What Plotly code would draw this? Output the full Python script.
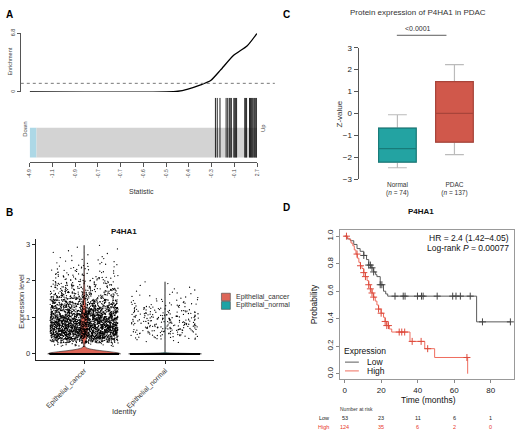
import numpy as np
import plotly.graph_objects as go

W, H = 520, 436
FONT = "Liberation Sans, Arial, sans-serif"

# ---------------- Panel A: barcode / enrichment ----------------
stat_tick_labels = ["-4.9", "-1.1", "-0.9", "-0.7", "-0.7", "-0.6", "-0.5", "-0.4", "-0.3", "-0.1", "2.7"]
rank_ticks = [0, 100, 200, 300, 400, 500, 600, 700, 800, 900, 1000]
enrich_rank = [0, 600, 652, 696, 752, 796, 839, 896, 957, 1000]
enrich_value = [0, 0, 0.08, 0.34, 0.83, 1.33, 2.53, 4.23, 5.36, 6.8]
enrich_baseline = 1.0
gene_set_ranks = [817, 825, 837, 864, 871, 878, 882, 887, 898, 902, 906, 910,
                  946, 950, 954, 967, 971, 975, 979, 983, 988, 992, 996, 999]
down_region = [0, 30]
up_region = [30, 1000]

# ---------------- Panel B: violin ----------------
violin_groups = ["Epithelial_cancer", "Epithelial_normal"]
expr_bin_lower = [0.2, 0.3, 0.4, 0.5, 0.6, 0.7, 0.8, 0.9, 1.0, 1.1, 1.2, 1.3, 1.4, 1.5,
                  1.6, 1.7, 1.8, 1.9, 2.0, 2.1, 2.2, 2.3, 2.4, 2.5, 2.6, 2.7, 2.8, 2.9]
cancer_bin_counts = [20, 120, 220, 260, 270, 260, 240, 220, 200, 170, 140, 115, 90, 72,
                     58, 45, 36, 28, 22, 17, 13, 10, 8, 6, 4, 3, 2, 2]
normal_bin_counts = [0, 4, 15, 22, 28, 30, 30, 30, 28, 24, 18, 13, 9, 6,
                     5, 3, 2, 2, 0, 0, 0, 0, 0, 0, 0, 0, 0, 0]
cancer_zero_count = 4500
normal_zero_count = 4000

# ---------------- Panel C: boxplot ----------------
box_groups = ["Normal", "PDAC"]
box_n = [74, 137]
box_q1 = [-2.22, -1.31]
box_median = [-1.61, 0.0]
box_q3 = [-0.67, 1.45]
box_lower = [-2.48, -1.88]
box_upper = [-0.06, 2.23]
box_pvalue = "<0.0001"

# ---------------- Panel D: Kaplan-Meier ----------------
low_t = [0, 1.5, 3.2, 5.0, 6.8, 8.5, 10.5, 12.0, 13.2, 14.5, 15.9, 17.0, 17.7, 19.5, 21.3, 22.5, 23.6, 72.3, 91.0]
low_s = [1.0, 0.98, 0.967, 0.94, 0.91, 0.89, 0.86, 0.83, 0.79, 0.77, 0.74, 0.72, 0.706, 0.647, 0.60, 0.58, 0.564, 0.377, 0.377]
high_t = [0, 1.5, 2.5, 3.5, 4.5, 5.3, 6.2, 7.0, 7.8, 8.6, 9.5, 10.5, 11.4, 12.3, 13.2, 14.1, 15.0, 15.9,
          16.8, 17.7, 18.6, 20.0, 21.3, 22.2, 23.1, 24.5, 25.8, 35.8, 43.9, 49.3, 67.4]
high_s = [1.0, 0.985, 0.975, 0.95, 0.93, 0.90, 0.87, 0.84, 0.81, 0.785, 0.765, 0.735, 0.706, 0.677, 0.647,
          0.617, 0.587, 0.557, 0.528, 0.50, 0.47, 0.44, 0.41, 0.38, 0.35, 0.325, 0.303, 0.235, 0.182, 0.118, 0.0]
low_censor_t = [10.5, 13.2, 14.1, 15.0, 15.9, 19.5, 20.4, 27.6, 32.1, 33.1, 39.9, 42.1, 43.0,
                50.7, 59.2, 61.0, 63.4, 68.8, 75.5, 90.8]
high_censor_t = [1.0, 6.8, 8.7, 10.5, 11.4, 13.2, 14.1, 15.0, 15.9, 18.6, 20.0, 22.2, 23.1, 24.0,
                 29.9, 31.3, 32.9, 37.0, 41.9, 45.5, 67.0]
risk_times = [0, 20, 40, 60, 80]
risk_low = [53, 23, 11, 6, 1]
risk_high = [124, 35, 6, 2, 0]
km_ticks_x = [0, 20, 40, 60, 80]
km_ticks_y = [0.0, 0.2, 0.4, 0.6, 0.8, 1.0]
hr_text = "HR = 2.4 (1.42–4.05)"
logrank_text = "Log-rank <i>P</i> = 0.00077"


def px_x(px):
    return px / W


def px_y(py):
    return 1 - py / H


def hash01(i, seed):
    v = np.sin(i * 12.9898 + seed * 78.233) * 43758.5453
    return v - np.floor(v)


fig = go.Figure()

# ---- Panel A traces ----
fig.add_trace(go.Scatter(x=enrich_rank, y=enrich_value, mode="lines",
                         line=dict(color="black", width=1.3, shape="spline", smoothing=0.6),
                         xaxis="x", yaxis="y", hoverinfo="skip", showlegend=False))
bx, by = [], []
for r in gene_set_ranks:
    bx += [r, r, None]
    by += [0, 1, None]
fig.add_trace(go.Scatter(x=bx, y=by, mode="lines", line=dict(color="black", width=1), opacity=0.85,
                         xaxis="x", yaxis="y2", hoverinfo="skip", showlegend=False))


# ---- Panel B traces ----
def expand(counts):
    vals = []
    for lo, c in zip(expr_bin_lower, counts):
        for k in range(c):
            vals.append(lo + (k + 0.5) / c * 0.1)
    return vals


cancer_vals = np.array([0.0] * cancer_zero_count + expand(cancer_bin_counts))
normal_vals = np.array([0.0] * normal_zero_count + expand(normal_bin_counts))
violin_colors = ["#DD6658", "#1DA3A5"]
for i, (vals, bw) in enumerate([(cancer_vals, 0.07), (normal_vals, 0.012)]):
    fig.add_trace(go.Violin(y=vals, x0=i + 1, xaxis="x3", yaxis="y3", width=0.9, bandwidth=bw,
                            spanmode="hard", scalemode="width", fillcolor=violin_colors[i],
                            line=dict(color="#222222", width=0.6), points=False,
                            box_visible=False, meanline_visible=False, hoverinfo="skip",
                            showlegend=False, opacity=1))
for i, vals in enumerate([cancer_vals, normal_vals]):
    n = len(vals)
    jit = (hash01(np.arange(n), i + 1) * 2 - 1) * 0.42
    fig.add_trace(go.Scatter(x=(i + 1) + jit, y=vals, mode="markers",
                             marker=dict(color="black", size=1.3, line=dict(width=0)),
                             xaxis="x3", yaxis="y3", hoverinfo="skip", showlegend=False))

# ---- Panel C traces ----
box_fill = ["#23A3A2", "#D0584B"]
box_edge = ["#187B79", "#A8443A"]
for i in range(len(box_groups)):
    xpos = i + 1
    fig.add_trace(go.Box(x=[xpos], q1=[box_q1[i]], median=[box_median[i]], q3=[box_q3[i]],
                         lowerfence=[box_lower[i]], upperfence=[box_upper[i]],
                         width=0.66, whiskerwidth=0.5, fillcolor="rgba(0,0,0,0)",
                         line=dict(color="#BBBBBB", width=1.2), xaxis="x4", yaxis="y4",
                         hoverinfo="skip", showlegend=False, boxpoints=False))
    fig.add_trace(go.Box(x=[xpos], q1=[box_q1[i]], median=[box_median[i]], q3=[box_q3[i]],
                         lowerfence=[box_q1[i]], upperfence=[box_q3[i]],
                         width=0.66, whiskerwidth=0.5, fillcolor=box_fill[i],
                         line=dict(color=box_edge[i], width=1.2), xaxis="x4", yaxis="y4",
                         hoverinfo="skip", showlegend=False, boxpoints=False))

# ---- Panel D traces ----
low_col, high_col = "#5A5A5A", "#EF6E5F"
low_mark, high_mark = "#444444", "#DD4A3C"
for t, s, c in [(low_t, low_s, low_col), (high_t, high_s, high_col)]:
    fig.add_trace(go.Scatter(x=t, y=s, mode="lines", line=dict(color=c, width=1, shape="hv"),
                             xaxis="x5", yaxis="y5", hoverinfo="skip", showlegend=False))
for ct, t, s, c in [(low_censor_t, low_t, low_s, low_mark), (high_censor_t, high_t, high_s, high_mark)]:
    idx = np.searchsorted(np.array(t), np.array(ct), side="right") - 1
    cy = np.array(s)[idx]
    fig.add_trace(go.Scatter(x=ct, y=cy, mode="markers",
                             marker=dict(symbol="cross-thin", size=5, line=dict(width=1, color=c)),
                             xaxis="x5", yaxis="y5", hoverinfo="skip", showlegend=False))

# ---------------- Layout ----------------
axis_common = dict(showgrid=False, zeroline=False)
layout = dict(
    width=W, height=H, margin=dict(l=0, r=0, t=0, b=0),
    paper_bgcolor="white", plot_bgcolor="rgba(0,0,0,0)",
    font=dict(family=FONT, color="#222"), showlegend=False, boxmode="overlay",
    # Panel A
    xaxis=dict(domain=[px_x(27), px_x(257)], range=[0, 1000], anchor="y2",
               tickvals=rank_ticks, ticktext=stat_tick_labels, tickangle=-90,
               ticks="outside", ticklen=4, tickcolor="#555", showline=True, linecolor="#555", linewidth=1,
               tickfont=dict(size=5, color="#444"), **axis_common),
    yaxis=dict(domain=[px_y(89), px_y(29)], range=[0, 6.8], anchor="free", position=px_x(17),
               tickvals=[0, 6.8], ticktext=["0", "6.8"], tickangle=-90, ticks="outside", ticklen=3,
               tickcolor="#555", showline=True, linecolor="#555", linewidth=1,
               tickfont=dict(size=5.5, color="#444"), **axis_common),
    yaxis2=dict(domain=[px_y(161), px_y(95)], range=[-0.08, 1], anchor="x", visible=False, **axis_common),
    # Panel B
    xaxis3=dict(domain=[px_x(33), px_x(213)], range=[0.4, 2.6], anchor="y3",
                tickvals=[1, 2], ticktext=violin_groups, tickangle=-45, ticks="outside", ticklen=3,
                tickcolor="#222", showline=True, linecolor="#222", linewidth=1,
                tickfont=dict(size=7, color="#333"), **axis_common),
    yaxis3=dict(domain=[px_y(363), px_y(240)], range=[-0.16, 3.134], anchor="x3",
                tickvals=[0, 1, 2, 3], ticks="outside", ticklen=3, tickcolor="#222",
                showline=True, linecolor="#222", linewidth=1,
                tickfont=dict(size=7.5, color="#333"), **axis_common),
    # Panel C
    xaxis4=dict(domain=[px_x(360), px_x(500)], range=[0.324, 2.75], anchor="y4",
                tickvals=[1, 2],
                ticktext=[f"{g}<br>(<i>n</i> = {n})" for g, n in zip(box_groups, box_n)],
                ticks="", showline=False, tickfont=dict(size=6.5, color="#333"), **axis_common),
    yaxis4=dict(domain=[px_y(178.2), px_y(43.8)], range=[-3, 3], anchor="x4", dtick=1,
                ticks="outside", ticklen=4, tickcolor="#555", showline=True, linecolor="#555", linewidth=1.3,
                tickfont=dict(size=8, color="#222"), **axis_common),
    # Panel D
    xaxis5=dict(domain=[px_x(341), px_x(517)], range=[-2.5, 92.8], anchor="y5",
                tickvals=km_ticks_x, ticks="outside", ticklen=3, tickcolor="#888",
                showline=True, mirror=True, linecolor="#999", linewidth=1,
                tickfont=dict(size=8, color="#222"), **axis_common),
    yaxis5=dict(domain=[px_y(383), px_y(230)], range=[-0.04, 1.047], anchor="x5",
                tickvals=km_ticks_y, ticktext=[f"{v:.1f}" for v in km_ticks_y], tickangle=-90,
                ticks="outside", ticklen=3, tickcolor="#888",
                showline=True, mirror=True, linecolor="#999", linewidth=1,
                tickfont=dict(size=8, color="#222"), **axis_common),
)
fig.update_layout(**layout)

shapes = []
shapes.append(dict(type="rect", xref="x", yref="y2", x0=down_region[0], x1=down_region[1], y0=0, y1=0.5,
                   fillcolor="#ADD8E6", line=dict(width=0), layer="below"))
shapes.append(dict(type="rect", xref="x", yref="y2", x0=up_region[0], x1=up_region[1], y0=0, y1=0.5,
                   fillcolor="#D3D3D3", line=dict(width=0), layer="below"))
shapes.append(dict(type="line", xref="paper", yref="y", x0=px_x(18), x1=px_x(275),
                   y0=enrich_baseline, y1=enrich_baseline, line=dict(color="#777", width=1, dash="3px,3px")))
shapes.append(dict(type="line", xref="x4", yref="paper", x0=0.99, x1=1.86, y0=px_y(31), y1=px_y(31),
                   line=dict(color="#333", width=0.8)))
shapes.append(dict(type="rect", xref="paper", yref="paper", x0=px_x(221), x1=px_x(230), y0=px_y(302.7), y1=px_y(295),
                   fillcolor=violin_colors[0], line=dict(color="#444", width=0.6)))
shapes.append(dict(type="rect", xref="paper", yref="paper", x0=px_x(221), x1=px_x(230), y0=px_y(311.5), y1=px_y(303.5),
                   fillcolor=violin_colors[1], line=dict(color="#444", width=0.6)))
shapes.append(dict(type="line", xref="paper", yref="paper", x0=px_x(346), x1=px_x(360), y0=px_y(365.5), y1=px_y(365.5),
                   line=dict(color=low_col, width=1)))
shapes.append(dict(type="line", xref="paper", yref="paper", x0=px_x(346), x1=px_x(360), y0=px_y(374.5), y1=px_y(374.5),
                   line=dict(color=high_col, width=1)))
fig.update_layout(shapes=shapes)

ann = []


def A(text, px, py, size, xanchor="center", angle=0, bold=False, color="#222", xref="paper", x=None):
    t = f"<b>{text}</b>" if bold else text
    ann.append(dict(text=t, x=px_x(px) if x is None else x, y=px_y(py), xref=xref, yref="paper",
                    xanchor=xanchor, yanchor="middle", showarrow=False, textangle=angle,
                    font=dict(size=size, color=color, family=FONT)))


A("A", 7, 10, 10, bold=True, color="#000")
A("B", 7, 212, 10, bold=True, color="#000")
A("C", 287, 10, 10, bold=True, color="#000")
A("D", 287, 207, 10, bold=True, color="#000")
A("Enrichment", 7, 58, 5.5, angle=-90, color="#444")
A("Down", 22, 127, 6, angle=-90, color="#444")
A("Up", 263, 126, 6, angle=-90, color="#444")
A("Statistic", 140, 191, 7, color="#333")
A("P4HA1", 122, 232, 8, bold=True, color="#111")
A("Expression level", 18, 303, 7.5, angle=-90, color="#333")
A("Identity", 122, 416, 7.5, color="#333")
A(violin_groups[0], 234, 298.5, 7, xanchor="left", color="#333")
A(violin_groups[1], 234, 307.5, 7, xanchor="left", color="#333")
A("Protein expression of P4HA1 in PDAC", 420, 8, 8, color="#333")
A(box_pvalue, 420, 24, 7, color="#333")
A("Z-value", 340, 112, 8, angle=-90, color="#333")
A("P4HA1", 423, 211, 8, bold=True, color="#111")
A(hr_text, 514, 238, 8.5, xanchor="right", color="#111")
A(logrank_text, 514, 249, 8.5, xanchor="right", color="#111")
A("Probability", 315, 306, 8.5, angle=-90, color="#111")
A("Time (months)", 430, 404, 8.5, color="#111")
A("Expression", 343, 354, 8.5, xanchor="left", color="#111")
A("Low", 366, 365.5, 8.5, xanchor="left", color="#111")
A("High", 366, 374.5, 8.5, xanchor="left", color="#111")
A("Number at risk", 339, 413, 5, xanchor="left", color="#333")
A("Low", 332, 423, 5.5, xanchor="right", color="#222")
A("High", 332, 432, 5.5, xanchor="right", color="#E8372A")
for t, lo, hi in zip(risk_times, risk_low, risk_high):
    A(str(lo), 0, 423, 5.5, color="#222", xref="x5", x=t)
    A(str(hi), 0, 432, 5.5, color="#E8372A", xref="x5", x=t)
fig.update_layout(annotations=ann)

fig.write_html("out.html", config={"displayModeBar": False, "staticPlot": True},
               post_script="document.body.style.margin='0px';")
